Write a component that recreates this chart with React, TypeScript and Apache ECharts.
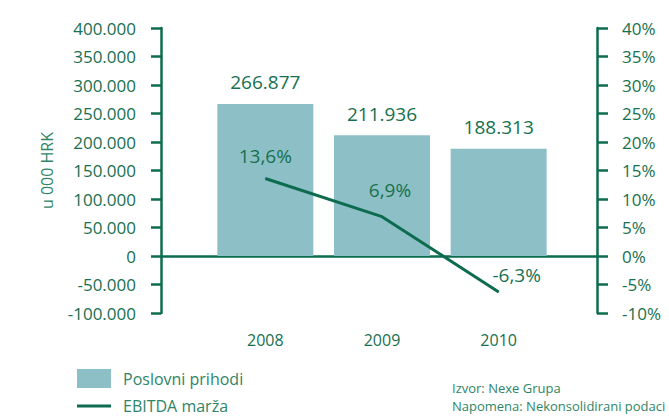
import React, { useEffect, useRef } from "react";
import * as echarts from "echarts";

const years = ["2008", "2009", "2010"];
const revenue = [266877, 211936, 188313];
const ebitdaMargin = [13.6, 6.9, -6.3];
const revenueAxis = { min: -100000, max: 400000, interval: 50000 };
const marginAxis = { min: -10, max: 40, interval: 5 };
const seriesNames = ["Poslovni prihodi", "EBITDA marža"];
const axisName = "u 000 HRK";
const notes = ["Izvor: Nexe Grupa", "Napomena: Nekonsolidirani podaci"];

const GREEN = "#0d6c4f";
const TEXT = "#17704f";
const LIGHT = "#2f8567";
const BAR = "#8dc0c6";
const FONT = "'Open Sans', 'Noto Sans', sans-serif";

function fmtThousands(v: number): string {
  const s = Math.abs(Math.round(v)).toString().replace(/\B(?=(\d{3})+(?!\d))/g, ".");
  return (v < 0 ? "-" : "") + s;
}
function fmtPct(v: number): string {
  return v.toFixed(1).replace(".", ",") + "%";
}

export default function App() {
  const ref = useRef<HTMLDivElement>(null);
  useEffect(() => {
    document.body.style.margin = "0";
    if (!ref.current) return;
    const chart = echarts.init(ref.current, null, { renderer: "svg" });
    const top = 28;
    const height = 285;
    const labelOffsets = [[0, -7], [8, -12], [18, -2]];
    chart.setOption({
      animation: false,
      textStyle: { fontFamily: FONT },
      grid: [
        { left: 161, right: 72, top, height },
        { left: 207, right: 112, top, height },
      ],
      legend: {
        orient: "vertical",
        left: 77,
        top: 369,
        padding: 0,
        itemWidth: 34,
        itemHeight: 19,
        itemGap: 10,
        textStyle: { color: LIGHT, fontSize: 16, fontFamily: FONT, padding: [0, 0, 0, 7] },
        data: [
          { name: seriesNames[0], icon: "rect" },
          { name: seriesNames[1], icon: "path://M0,0H34V3H0Z" },
        ],
      },
      xAxis: [
        {
          gridIndex: 0,
          type: "category",
          data: years,
          axisLine: { show: true, onZero: true, lineStyle: { color: GREEN, width: 2.5 } },
          axisTick: { show: false },
          axisLabel: { show: false },
          splitLine: { show: false },
        },
        {
          gridIndex: 1,
          type: "category",
          data: years,
          axisLine: { show: false, onZero: false },
          axisTick: { show: false },
          axisLabel: { color: TEXT, fontSize: 16, margin: 19, fontFamily: FONT },
          splitLine: { show: false },
        },
      ],
      yAxis: [
        {
          gridIndex: 0,
          type: "value",
          position: "left",
          ...revenueAxis,
          name: axisName,
          nameLocation: "middle",
          nameRotate: 90,
          nameGap: 106,
          nameTextStyle: { color: LIGHT, fontSize: 16, fontFamily: FONT },
          axisLine: { show: true, lineStyle: { color: GREEN, width: 2.5 } },
          axisTick: { show: true, length: 10, lineStyle: { color: GREEN, width: 2.5 } },
          axisLabel: { color: TEXT, fontSize: 17, margin: 25, fontFamily: FONT, formatter: (v: number) => fmtThousands(v) },
          splitLine: { show: false },
        },
        {
          gridIndex: 0,
          type: "value",
          position: "right",
          ...marginAxis,
          axisLine: { show: true, lineStyle: { color: GREEN, width: 2.5 } },
          axisTick: { show: true, length: 11, lineStyle: { color: GREEN, width: 2.5 } },
          axisLabel: { color: TEXT, fontSize: 17, margin: 25, fontFamily: FONT, formatter: (v: number) => v + "%" },
          splitLine: { show: false },
        },
        { gridIndex: 1, type: "value", ...revenueAxis, show: false, splitLine: { show: false } },
        { gridIndex: 1, type: "value", ...marginAxis, show: false, splitLine: { show: false } },
      ],
      series: [
        {
          name: seriesNames[0],
          type: "bar",
          xAxisIndex: 1,
          yAxisIndex: 2,
          data: revenue,
          barWidth: 96,
          itemStyle: { color: BAR },
          label: {
            show: true,
            position: "top",
            distance: 12,
            color: TEXT,
            fontSize: 19,
            fontFamily: FONT,
            formatter: (p: any) => fmtThousands(p.value),
          },
        },
        {
          name: seriesNames[1],
          type: "line",
          xAxisIndex: 1,
          yAxisIndex: 3,
          symbol: "circle",
          symbolSize: 1,
          showSymbol: true,
          lineStyle: { color: GREEN, width: 3 },
          itemStyle: { color: GREEN },
          data: ebitdaMargin.map((v, i) => ({
            value: v,
            label: { offset: labelOffsets[i] },
          })),
          label: {
            show: true,
            position: "top",
            color: TEXT,
            fontSize: 19,
            fontFamily: FONT,
            formatter: (p: any) => fmtPct(p.value),
          },
          z: 5,
        },
      ],
      graphic: notes.map((t, i) => ({
        type: "text",
        left: 452,
        top: 381 + i * 18.5,
        style: { text: t, fill: LIGHT, fontSize: 13, fontFamily: FONT },
      })),
    });
    return () => chart.dispose();
  }, []);
  return <div ref={ref} style={{ width: 669, height: 416 }} />;
}
